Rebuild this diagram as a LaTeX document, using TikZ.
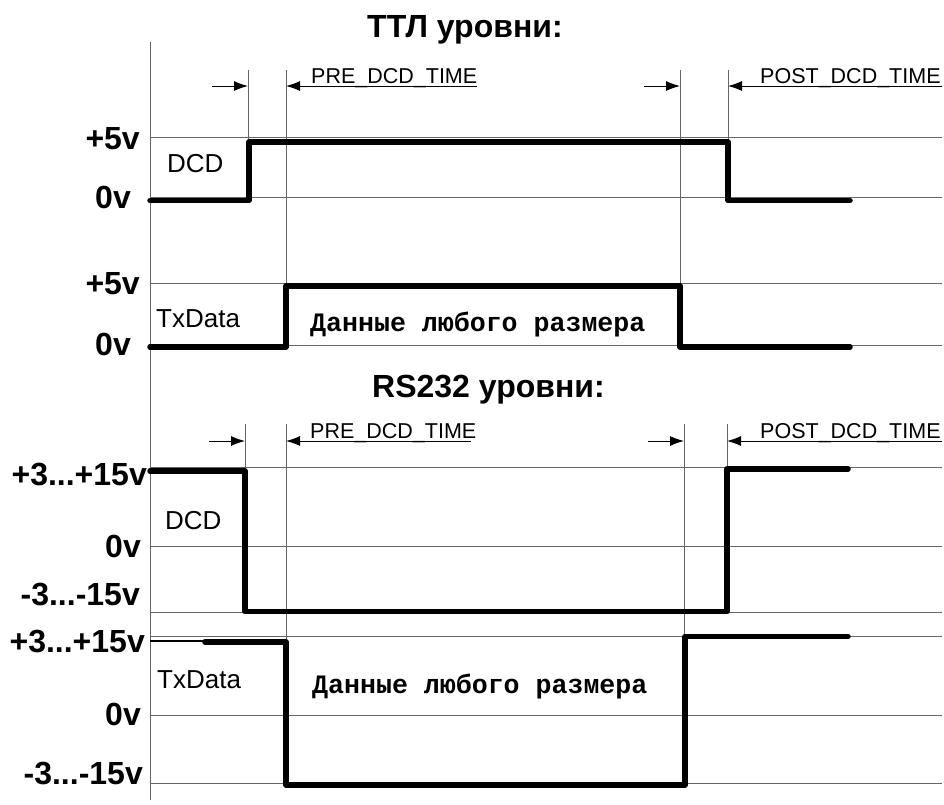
\documentclass[tikz,border=0pt]{standalone}
\usepackage{fontspec}
\setmainfont{Liberation Sans}
\setmonofont{Liberation Mono}
\usetikzlibrary{arrows.meta}
\begin{document}
\begin{tikzpicture}[x=1pt,y=-1pt,
  levelline/.style={line width=1pt, black!60},
  wave/.style={line width=5.5pt, line cap=round, line join=round},
  thinwave/.style={line width=1.6pt},
  guide/.style={line width=0.9pt, black!60},
  dimarrow/.style={line width=1pt, -{Latex[length=14pt,width=10pt]}},
  lvl/.style={font=\fontsize{32}{36}\selectfont\bfseries, anchor=base east, inner sep=0pt},
  title/.style={font=\fontsize{32}{36}\selectfont\bfseries, anchor=base west, inner sep=0pt},
  sig/.style={font=\fontsize{26}{30}\selectfont, anchor=base west, inner sep=0pt},
  tim/.style={font=\fontsize{21.5}{24}\selectfont, anchor=base west, inner sep=0pt},
  datatext/.style={font=\fontsize{26.6}{30}\selectfont\ttfamily\bfseries, anchor=base west, inner sep=0pt}
]
\useasboundingbox (0,0) rectangle (944,804);

% axis
\coordinate (axT) at (150,42);
\coordinate (axB) at (150,800);
\draw[levelline] (axT) -- (axB);

% titles
\node[title] (t1) at (367,37) {ТТЛ уровни:};
\node[title] (t2) at (372,397) {RS232 уровни:};

% level lines
\foreach \n/\y in {a/137, b/197, c/283, d/345, e/467, f/546, g/612, h/636, i/715, j/783}{
  \coordinate (L\n0) at (150,\y);
  \coordinate (L\n1) at (942,\y);
  \draw[levelline] (L\n0) -- (L\n1);
}

% ---------- TTL guides
\coordinate (g1t) at (248,70);  \coordinate (g1b) at (248,142);
\coordinate (g2t) at (286,70);  \coordinate (g2b) at (286,286);
\coordinate (g3t) at (680,70);  \coordinate (g3b) at (680,286);
\coordinate (g4t) at (728,70);  \coordinate (g4b) at (728,142);
\draw[guide] (g1t) -- (g1b) (g2t) -- (g2b) (g3t) -- (g3b) (g4t) -- (g4b);

% TTL arrows
\coordinate (a1s) at (212,86); \coordinate (a1e) at (248,86);
\coordinate (a2s) at (477,86); \coordinate (a2e) at (286,86);
\coordinate (a3s) at (644,86); \coordinate (a3e) at (680,86);
\coordinate (a4s) at (942,86); \coordinate (a4e) at (728,86);
\draw[dimarrow] (a1s) -- (a1e);
\draw[dimarrow] (a2s) -- (a2e);
\draw[dimarrow] (a3s) -- (a3e);
\draw[dimarrow] (a4s) -- (a4e);
\node[tim] (pre1) at (311,83) {PRE\_DCD\_TIME};
\node[tim] (post1) at (760,83) {POST\_DCD\_TIME};

% TTL DCD
\draw[wave] (150,200.5) -- (249,200.5) -- (249,142) -- (728,142) -- (728,200.5) -- (850,200.5);
\node[lvl] (v1) at (140,149) {+5v};
\node[lvl] (v2) at (131,208) {0v};
\node[sig] (dcd1) at (167,172) {DCD};

% TTL TxData
\draw[wave] (150,347) -- (286,347) -- (286,286) -- (680,286) -- (680,347) -- (850,347);
\node[lvl] (v3) at (140,294) {+5v};
\node[lvl] (v4) at (131,355) {0v};
\node[sig] (tx1) at (156,327) {TxData};
\node[datatext] (d1) at (310,331) {Данные любого размера};

% ---------- RS232 guides
\coordinate (h1t) at (245,424); \coordinate (h1b) at (245,471);
\coordinate (h2t) at (286,424); \coordinate (h2b) at (286,642);
\coordinate (h3t) at (684,424); \coordinate (h3b) at (684,636);
\coordinate (h4t) at (727,424); \coordinate (h4b) at (727,469);
\draw[guide] (h1t) -- (h1b) (h2t) -- (h2b) (h3t) -- (h3b) (h4t) -- (h4b);

% RS arrows
\coordinate (b1s) at (209,441); \coordinate (b1e) at (245,441);
\coordinate (b2s) at (471,441); \coordinate (b2e) at (286,441);
\coordinate (b3s) at (648,441); \coordinate (b3e) at (684,441);
\coordinate (b4s) at (942,441); \coordinate (b4e) at (727,441);
\draw[dimarrow] (b1s) -- (b1e);
\draw[dimarrow] (b2s) -- (b2e);
\draw[dimarrow] (b3s) -- (b3e);
\draw[dimarrow] (b4s) -- (b4e);
\node[tim] (pre2) at (310,438) {PRE\_DCD\_TIME};
\node[tim] (post2) at (760,438) {POST\_DCD\_TIME};

% RS DCD
\draw[wave] (150,471) -- (245,471) -- (245,611.5) -- (727,611.5) -- (727,469) -- (848,469);
\node[lvl] (r1) at (147,485) {+3...+15v};
\node[lvl] (r2) at (141,557) {0v};
\node[lvl] (r3) at (140,605) {-3...-15v};
\node[sig] (dcd2) at (165,529) {DCD};

% RS TxData
\draw[thinwave] (150,641) -- (205,641);
\draw[wave] (205,642) -- (286,642) -- (286,785) -- (685,785) -- (685,636.5) -- (848,636.5);
\node[lvl] (r4) at (145,652) {+3...+15v};
\node[lvl] (r5) at (141,725) {0v};
\node[lvl] (r6) at (143,784) {-3...-15v};
\node[sig] (tx2) at (157,688) {TxData};
\node[datatext] (d2) at (312,693) {Данные любого размера};
\end{tikzpicture}
\end{document}
